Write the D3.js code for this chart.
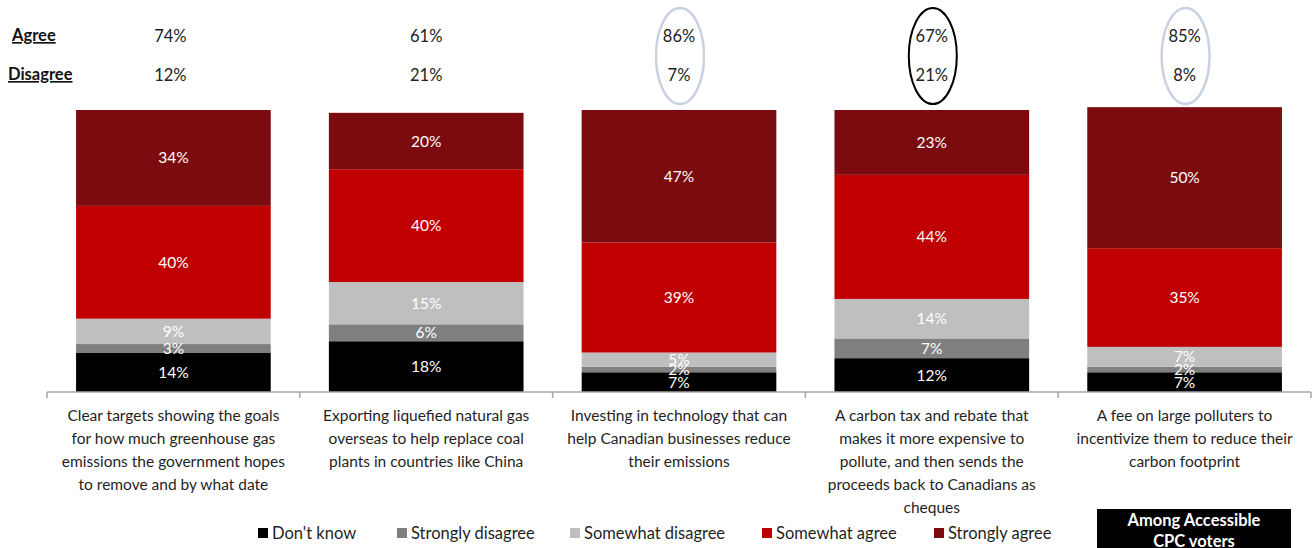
<!DOCTYPE html>
<html>
<head>
<meta charset="utf-8">
<script src="https://cdn.jsdelivr.net/npm/d3@7/dist/d3.min.js"></script>
<style>
  html, body { margin: 0; padding: 0; background: #fff; }
  svg { display: block; font-family: Lato, "Open Sans", sans-serif; }
</style>
</head>
<body>
<svg id="chart" width="1314" height="548"></svg>
<script>
// ---- data ----
const categories = [
  ["Clear targets showing the goals", "for how much greenhouse gas", "emissions the government hopes", "to remove and by what date"],
  ["Exporting liquefied natural gas", "overseas to help replace coal", "plants in countries like China"],
  ["Investing in technology that can", "help Canadian businesses reduce", "their emissions"],
  ["A carbon tax and rebate that", "makes it more expensive to", "pollute, and then sends the", "proceeds back to Canadians as", "cheques"],
  ["A fee on large polluters to", "incentivize them to reduce their", "carbon footprint"]
];
const seriesNames = ["Don't know", "Strongly disagree", "Somewhat disagree", "Somewhat agree", "Strongly agree"];
const dontKnow = [14, 18, 7, 12, 7];
const stronglyDisagree = [3, 6, 2, 7, 2];
const somewhatDisagree = [9, 15, 5, 14, 7];
const somewhatAgree = [40, 40, 39, 44, 35];
const stronglyAgree = [34, 20, 47, 23, 50];
const agreeTotals = [74, 61, 86, 67, 85];
const disagreeTotals = [12, 21, 7, 21, 8];
const highlight = [null, null, "soft", "strong", "soft"];
const boxLabel = ["Among Accessible", "CPC voters"];

// ---- styling ----
const colors = ["#000000", "#7f7f7f", "#bfbfbf", "#c00000", "#7b0b0e"];
const seriesValues = [dontKnow, stronglyDisagree, somewhatDisagree, somewhatAgree, stronglyAgree];

const svg = d3.select("#chart");
const plotLeft = 47, plotRight = 1311, baseY = 392;

const x = d3.scaleBand().domain(d3.range(categories.length)).range([plotLeft, plotRight]).paddingInner(0.23).paddingOuter(0.115);
const xOuter = d3.scaleBand().domain(d3.range(categories.length)).range([plotLeft, plotRight]);
const y = d3.scaleLinear().domain([0, 100]).range([baseY, 110]);

const rows = categories.map((c, i) => {
  const r = { idx: i };
  seriesNames.forEach((s, k) => r[s] = seriesValues[k][i]);
  return r;
});
const stacked = d3.stack().keys(seriesNames)(rows);

// bars
const g = svg.append("g");
stacked.forEach((layer, k) => {
  g.selectAll(null).data(layer).enter().append("rect")
    .attr("x", d => x(d.data.idx))
    .attr("width", x.bandwidth())
    .attr("y", d => y(d[1]))
    .attr("height", d => y(d[0]) - y(d[1]))
    .attr("fill", colors[k]);
});
// labels in bars
stacked.forEach((layer, k) => {
  g.selectAll(null).data(layer).enter().append("text")
    .attr("x", d => x(d.data.idx) + x.bandwidth() / 2)
    .attr("y", d => (y(d[0]) + y(d[1])) / 2 + 5.5)
    .attr("text-anchor", "middle")
    .attr("fill", "#ffffff")
    .attr("font-size", 15.5)
    .text(d => (d[1] - d[0]) + "%");
});

// axis
const axis = svg.append("g").attr("transform", `translate(0,${baseY})`);
axis.append("line").attr("x1", plotLeft).attr("x2", plotRight).attr("y1", 0).attr("y2", 0)
  .attr("stroke", "#a6a6a6").attr("stroke-width", 1.5);
const bounds = d3.range(categories.length + 1).map(i => i < categories.length ? xOuter(i) : plotRight);
axis.selectAll(null).data(bounds).enter().append("line")
  .attr("x1", d => d).attr("x2", d => d).attr("y1", 0).attr("y2", 6)
  .attr("stroke", "#a6a6a6").attr("stroke-width", 1.5);

// category labels
categories.forEach((lines, i) => {
  const t = svg.append("text")
    .attr("x", x(i) + x.bandwidth() / 2)
    .attr("y", 421)
    .attr("text-anchor", "middle")
    .attr("fill", "#1f1f1f")
    .attr("font-size", 15.5);
  lines.forEach((ln, j) => {
    t.append("tspan").attr("x", x(i) + x.bandwidth() / 2).attr("y", 421 + j * 23).text(ln);
  });
});

// Agree / Disagree header
const hdr = svg.append("g");
hdr.append("text").attr("x", 12).attr("y", 41).attr("font-size", 16.5).attr("font-weight", "bold")
  .attr("fill", "#111").attr("text-decoration", "underline").text("Agree");
hdr.append("text").attr("x", 8).attr("y", 80).attr("font-size", 16.5).attr("font-weight", "bold")
  .attr("fill", "#111").attr("text-decoration", "underline").text("Disagree");

// ellipses
highlight.forEach((h, i) => {
  if (!h) return;
  svg.append("ellipse")
    .attr("cx", x(i) + x.bandwidth() / 2 + 1)
    .attr("cy", 56)
    .attr("rx", 24)
    .attr("ry", 48)
    .attr("fill", "none")
    .attr("stroke", h === "strong" ? "#000000" : "#c8d2e0")
    .attr("stroke-width", h === "strong" ? 2 : 2.5);
});

hdr.selectAll(null).data(agreeTotals).enter().append("text")
  .attr("x", (d, i) => x(i) + x.bandwidth() / 2 - (i === 0 ? 3 : 0))
  .attr("y", 42).attr("text-anchor", "middle").attr("font-size", 16.5).attr("fill", "#222")
  .text(d => d + "%");
hdr.selectAll(null).data(disagreeTotals).enter().append("text")
  .attr("x", (d, i) => x(i) + x.bandwidth() / 2 - (i === 0 ? 3 : 0))
  .attr("y", 81).attr("text-anchor", "middle").attr("font-size", 16.5).attr("fill", "#222")
  .text(d => d + "%");

// legend
const legendX = [258, 397, 570, 762, 934];
const leg = svg.append("g");
seriesNames.forEach((s, k) => {
  leg.append("rect").attr("x", legendX[k]).attr("y", 528).attr("width", 10).attr("height", 10).attr("fill", colors[k]);
  leg.append("text").attr("x", legendX[k] + 14).attr("y", 539).attr("font-size", 16.5).attr("fill", "#1f1f1f").text(s);
});

// box
const bx = svg.append("g");
bx.append("rect").attr("x", 1097).attr("y", 509).attr("width", 194).attr("height", 45).attr("fill", "#000");
boxLabel.forEach((t, j) => {
  bx.append("text").attr("x", 1194).attr("y", 526 + j * 21).attr("text-anchor", "middle")
    .attr("font-size", 16.5).attr("font-weight", "bold").attr("fill", "#fff").text(t);
});
</script>
</body>
</html>
